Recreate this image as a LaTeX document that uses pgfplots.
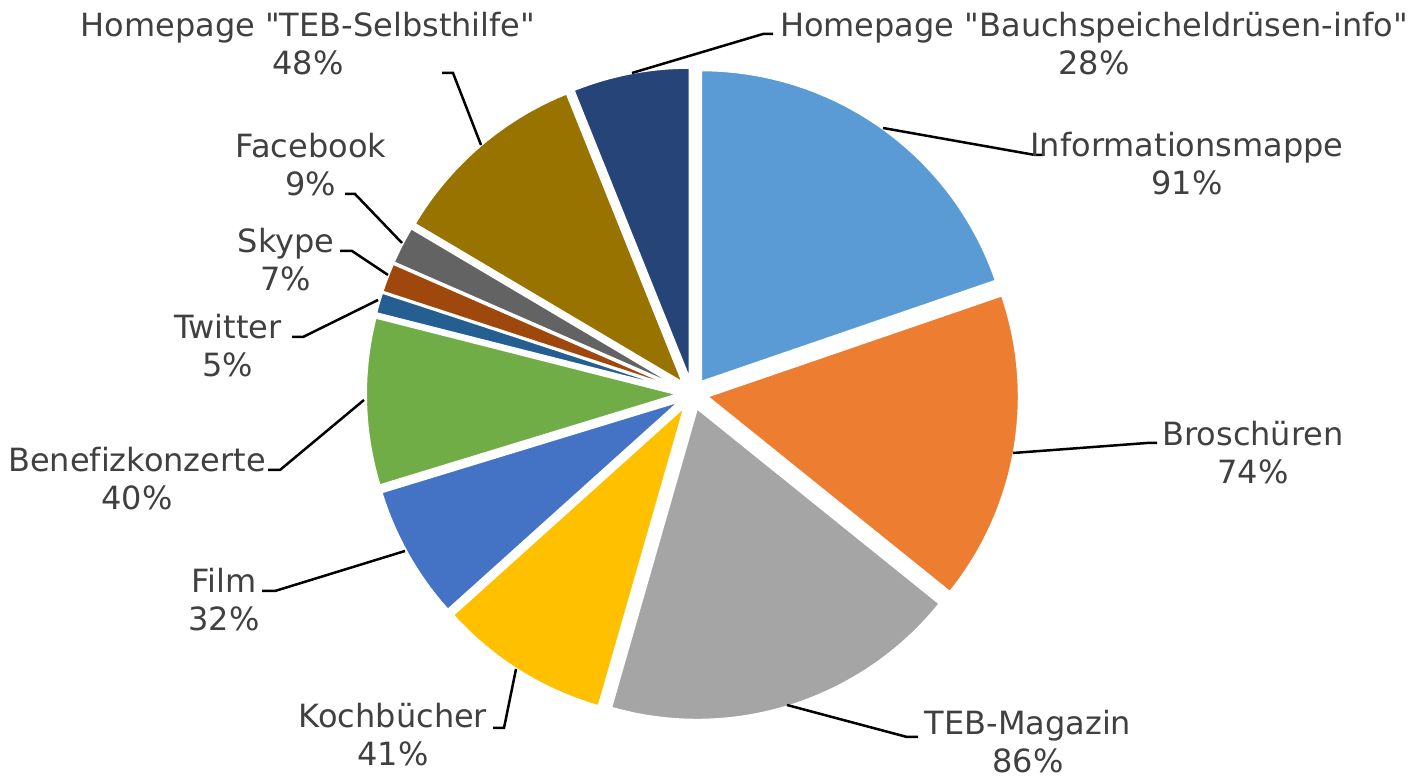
\documentclass[border=0pt]{standalone}
\usepackage{pgfplots}
\pgfplotsset{compat=1.18}
\usepackage{fontspec}
\setmainfont{DejaVu Sans}[Ligatures=NoCommon]
\definecolor{cInfo}{HTML}{5B9BD5}
\definecolor{cBro}{HTML}{ED7D31}
\definecolor{cMag}{HTML}{A5A5A5}
\definecolor{cKoch}{HTML}{FFC000}
\definecolor{cFilm}{HTML}{4472C4}
\definecolor{cBene}{HTML}{70AD47}
\definecolor{cTwit}{HTML}{255E91}
\definecolor{cSky}{HTML}{9E480E}
\definecolor{cFace}{HTML}{636363}
\definecolor{cSelb}{HTML}{997300}
\definecolor{cBauch}{HTML}{264478}
\definecolor{lblgray}{HTML}{404040}
\newcommand\lbl{\fontsize{16pt}{19pt}\selectfont}
\newcommand\q{\XeTeXglyph\XeTeXcharglyph"22\relax}
% pie geometry in pixel units
\def\pcx{692.5}\def\pcy{386}\def\prad{311.5}\def\pexp{15}\def\ptotal{461}
\def\cum{0}
\newcommand\pieslice[2]{%
  \pgfmathsetmacro\sa{90-\cum/\ptotal*360}%
  \pgfmathsetmacro\cumnew{\cum+#1}%
  \pgfmathsetmacro\ea{90-\cumnew/\ptotal*360}%
  \pgfmathsetmacro\md{(\sa+\ea)/2}%
  \pgfmathsetmacro\scx{\pcx+\pexp*cos(\md)}%
  \pgfmathsetmacro\scy{\pcy+\pexp*sin(\md)}%
  \edef\tmp{\noexpand\addplot[fill=#2, draw=white, line width=1pt, domain=\ea:\sa, samples=80, variable=\noexpand\t]
    ({\scx+\prad*cos(\noexpand\t)},{\scy+\prad*sin(\noexpand\t)}) -- (axis cs:\scx,\scy) -- cycle;}%
  \tmp
  \xdef\cum{\cumnew}%
}
\begin{document}
\begin{tikzpicture}
\path[use as bounding box] (0,0) rectangle (712pt,390pt);
\begin{axis}[at={(0,0)}, anchor=south west, scale only axis,
  width=712pt, height=390pt, xmin=0, xmax=1424, ymin=0, ymax=780,
  hide axis, clip=false]
\pieslice{91}{cInfo}
\pieslice{74}{cBro}
\pieslice{86}{cMag}
\pieslice{41}{cKoch}
\pieslice{32}{cFilm}
\pieslice{40}{cBene}
\pieslice{5}{cTwit}
\pieslice{7}{cSky}
\pieslice{9}{cFace}
\pieslice{48}{cSelb}
\pieslice{28}{cBauch}
% leader lines
\tikzset{lead/.style={black, line width=1.25pt}}
\draw[lead] (axis cs:632,707) -- (axis cs:763,746) -- (axis cs:773,746);
\draw[lead] (axis cs:883,652) -- (axis cs:1035,625) -- (axis cs:1043,625);
\draw[lead] (axis cs:1013,327) -- (axis cs:1147,337) -- (axis cs:1157,337);
\draw[lead] (axis cs:787,75) -- (axis cs:907,43) -- (axis cs:918,43);
\draw[lead] (axis cs:516,111) -- (axis cs:504,52) -- (axis cs:493,52);
\draw[lead] (axis cs:405,229) -- (axis cs:275,189) -- (axis cs:262,189);
\draw[lead] (axis cs:364,380) -- (axis cs:280,310) -- (axis cs:268,310);
\draw[lead] (axis cs:378,480) -- (axis cs:303,443) -- (axis cs:292,443);
\draw[lead] (axis cs:388,505) -- (axis cs:352,529) -- (axis cs:340,529);
\draw[lead] (axis cs:402,537) -- (axis cs:355,586) -- (axis cs:345,586);
\draw[lead] (axis cs:481,635) -- (axis cs:453,707) -- (axis cs:442,707);
% labels
\tikzset{lab/.style={align=center, text=lblgray, font=\lbl, inner sep=0pt}}
\node[lab] at (axis cs:1094,736) {Homepage \q Bauchspeicheldrüsen-info\q\\28\%};
\node[lab] at (axis cs:1187,616) {Informationsmappe\\91\%};
\node[lab] at (axis cs:1253,327) {Broschüren\\74\%};
\node[lab] at (axis cs:1028,38) {TEB-Magazin\\86\%};
\node[lab] at (axis cs:393,45) {Kochbücher\\41\%};
\node[lab] at (axis cs:224,180) {Film\\32\%};
\node[lab] at (axis cs:137,301) {Benefizkonzerte\\40\%};
\node[lab] at (axis cs:228,434) {Twitter\\5\%};
\node[lab] at (axis cs:286,520) {Skype\\7\%};
\node[lab] at (axis cs:311,615) {Facebook\\9\%};
\node[lab] at (axis cs:308,736) {Homepage \q TEB-Selbsthilfe\q\\48\%};
\end{axis}
\end{tikzpicture}
\end{document}
